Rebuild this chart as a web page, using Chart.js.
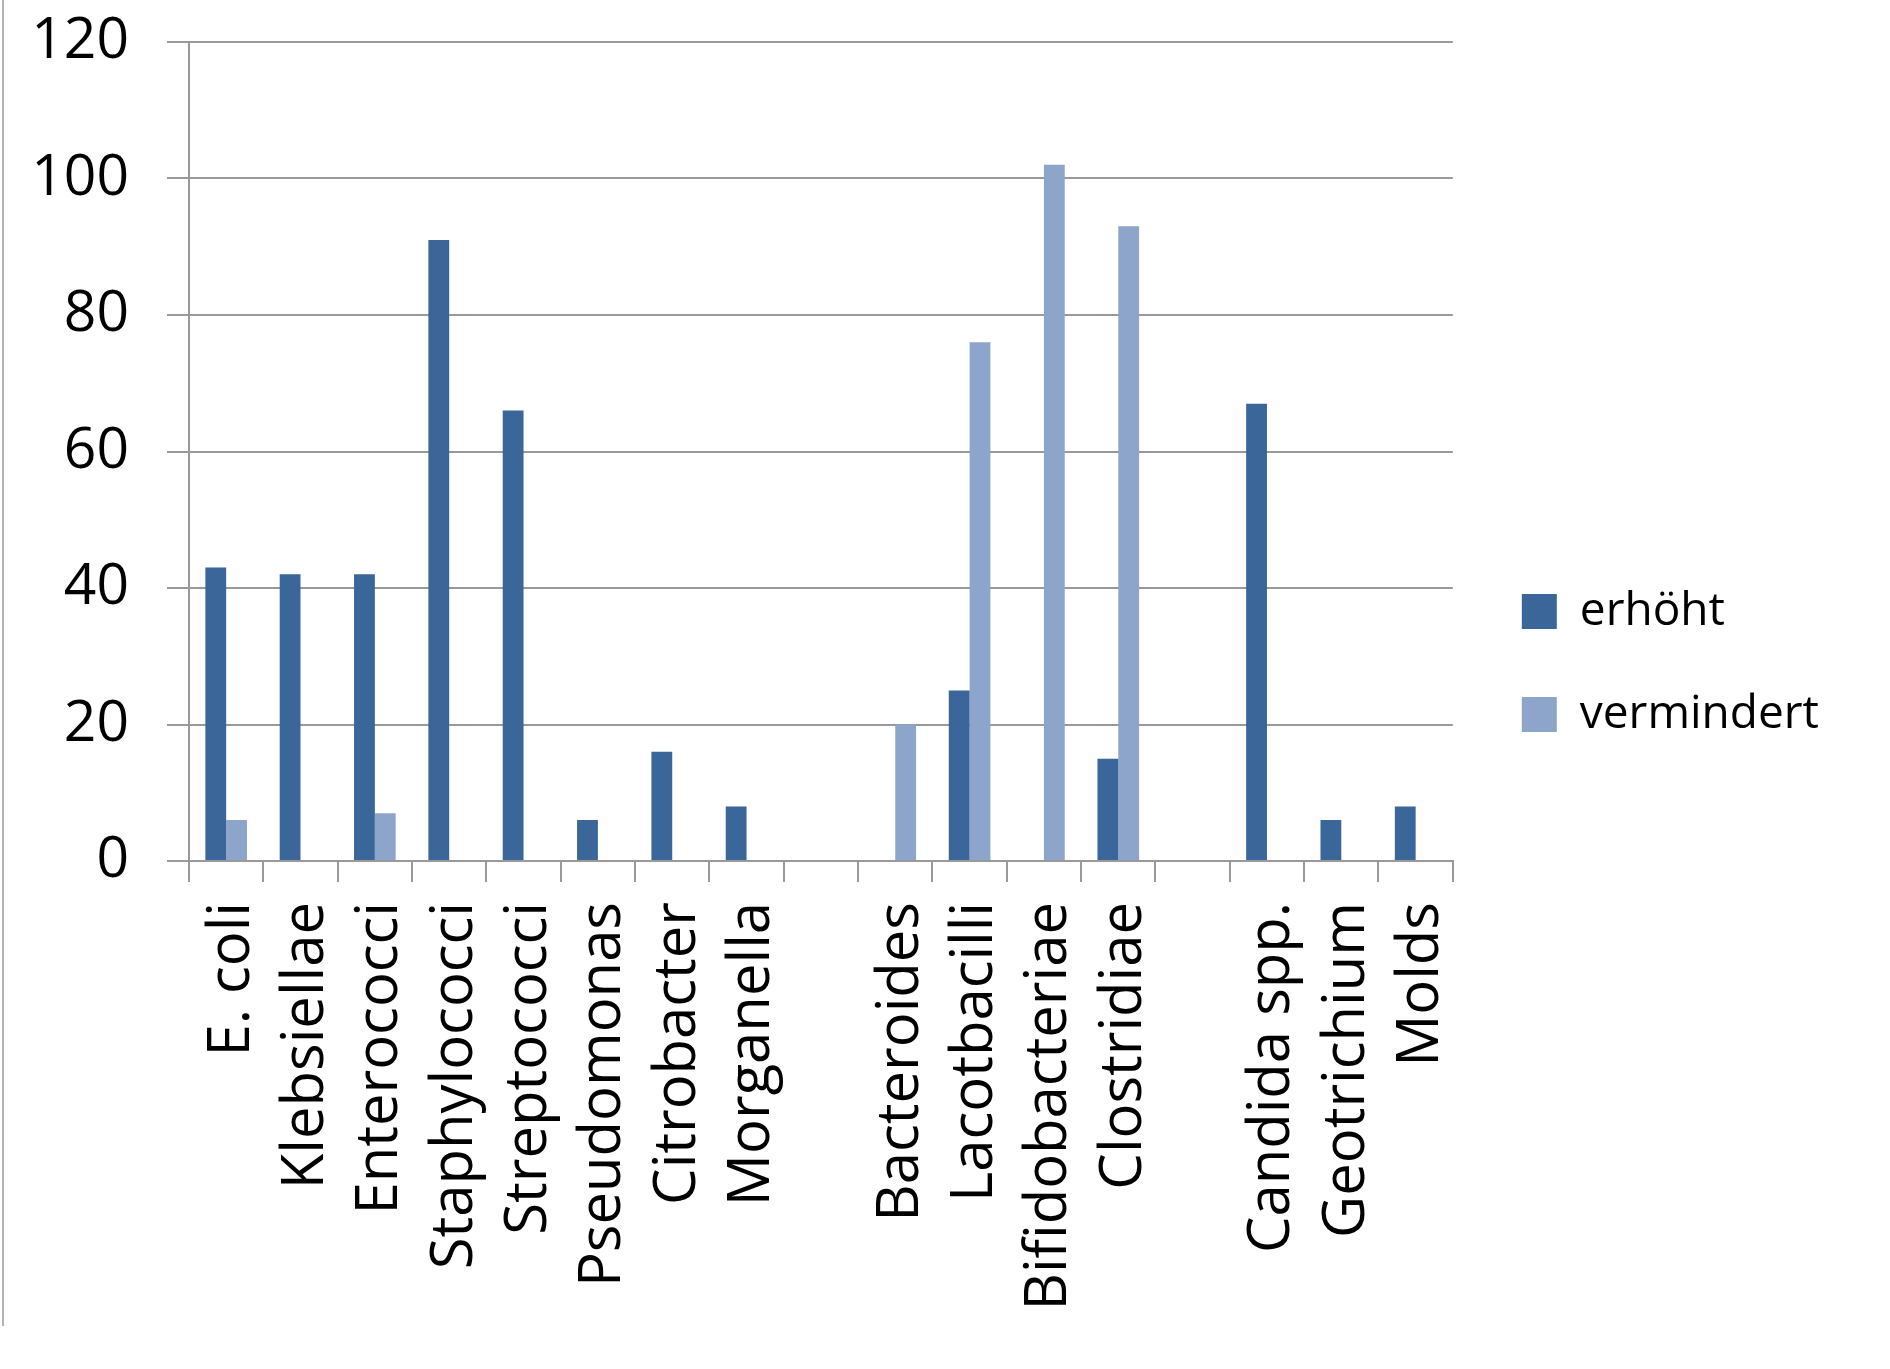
<!DOCTYPE html>
<html lang="de">
<head>
    <meta charset="UTF-8">
    <title>erhöht / vermindert</title>
    <style>
        body { margin: 0; background: #fff; }
        .wrap { position: relative; width: 1890px; height: 1369px; }
        .edge { position: absolute; left: 2px; top: 0; width: 2px; height: 1326px; background: #b4b4b4; }
    </style>
</head>
<body>
    <div class="wrap">
        <div class="edge"></div>
        <canvas id="chart"></canvas>
    </div>

    <script src="https://cdn.jsdelivr.net/npm/chart.js@4.4.9/dist/chart.umd.min.js"></script>
    <script>
        // data
        const categories = ['E. coli', 'Klebsiellae', 'Enterococci', 'Staphylococci', 'Streptococci',
            'Pseudomonas', 'Citrobacter', 'Morganella', '', 'Bacteroides', 'Lacotbacilli',
            'Bifidobacteriae', 'Clostridiae', '', 'Candida spp.', 'Geotrichium', 'Molds'];
        const erhoeht = [43, 42, 42, 91, 66, 6, 16, 8, null, null, 25, null, 15, null, 67, 6, 8];
        const vermindert = [6, null, 7, null, null, null, null, null, null, 20, 76, 102, 93, null, null, null, null];
        const yTicks = [0, 20, 40, 60, 80, 100, 120];

        const gridGray = '#999999';
        const font = 'Open Sans';
        const padTop = 0, padBottom = 43;

        // nudge the legend a bit further right without widening the plot
        const legendShift = {
            id: 'legendShift',
            afterLayout(chart) {
                chart.legend.left += 12;
                chart.legend.right += 12;
            }
        };

        new Chart(document.getElementById('chart'), {
            type: 'bar',
            data: {
                labels: categories,
                datasets: [
                    { label: 'erhöht', data: erhoeht, backgroundColor: '#3a6699' },
                    { label: 'vermindert', data: vermindert, backgroundColor: '#8ea5cb' }
                ]
            },
            options: {
                responsive: true,
                maintainAspectRatio: false,
                animation: false,
                categoryPercentage: 0.56,
                barPercentage: 1.0,
                layout: { padding: { top: padTop, bottom: padBottom, left: 0, right: 73 } },
                plugins: {
                    tooltip: { enabled: false },
                    legend: {
                        position: 'right',
                        labels: {
                            boxWidth: 35,
                            boxHeight: 35,
                            padding: 57,
                            color: '#000',
                            font: { family: font, size: 46 }
                        }
                    }
                },
                scales: {
                    x: {
                        grid: { drawOnChartArea: false, tickLength: 21, color: gridGray, lineWidth: 2 },
                        border: { color: gridGray, width: 2 },
                        ticks: {
                            autoSkip: false,
                            minRotation: 90,
                            maxRotation: 90,
                            padding: 20,
                            labelOffset: 6,
                            color: '#000',
                            font: { family: font, size: 58 }
                        },
                        afterFit: (scale) => { scale.height = 1369 - padBottom - 861; }
                    },
                    y: {
                        min: 0,
                        max: 120,
                        afterBuildTicks: (scale) => { scale.ticks = yTicks.map(v => ({ value: v })); },
                        grid: { tickLength: 22, color: gridGray, lineWidth: 2 },
                        border: { color: gridGray, width: 2 },
                        ticks: {
                            padding: 38,
                            color: '#000',
                            font: { family: font, size: 57 }
                        },
                        afterFit: (scale) => {
                            scale.width = 189;
                            scale.paddingTop = 42;
                            scale.paddingBottom = 0;
                        }
                    }
                }
            },
            plugins: [legendShift]
        });
    </script>
</body>
</html>
